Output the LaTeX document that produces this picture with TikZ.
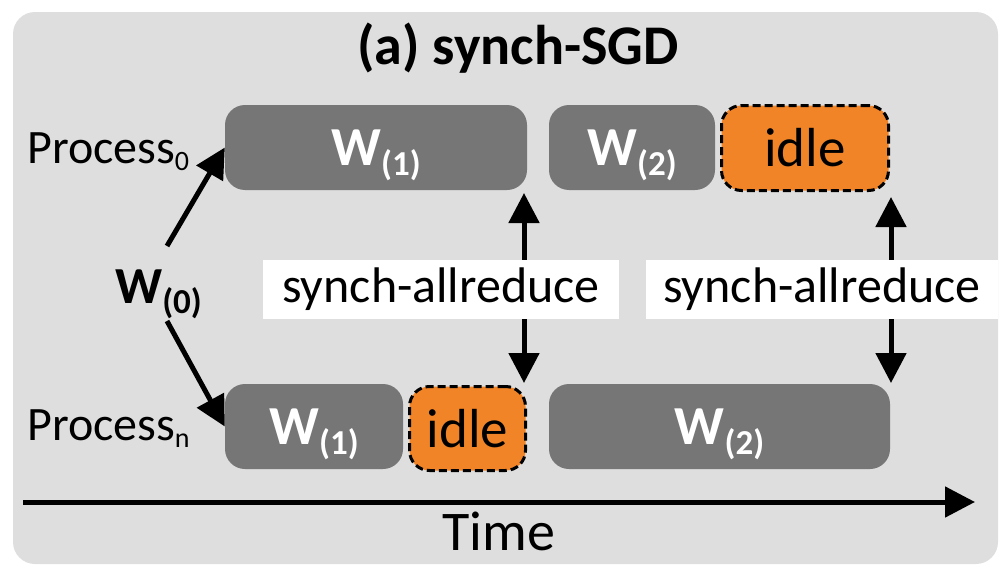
\documentclass[tikz,border=0pt]{standalone}
\usepackage{fontspec}
\setmainfont{Carlito}
\usetikzlibrary{arrows.meta}
\definecolor{panelgrey}{HTML}{DEDEDE}
\definecolor{boxgrey}{HTML}{767676}
\definecolor{idleorange}{HTML}{F08427}
% bold W with a lowered, smaller "(k)" index
\newcommand{\wk}[1]{W\smash{\raisebox{-10pt}{\fontsize{35}{35}\selectfont(#1)}}}
\newcommand{\procidx}[1]{\smash{\raisebox{-7pt}{\fontsize{28}{28}\selectfont #1}}}
\begin{document}
\begin{tikzpicture}[x=1pt,y=-1pt,
  wbox/.style={fill=boxgrey, rounded corners=20pt, inner sep=0pt, minimum height=85pt,
    text=white, font=\fontsize{55}{55}\selectfont\bfseries},
  idlebox/.style={fill=idleorange, draw=black, line width=3pt, dash pattern=on 8pt off 4pt,
    rounded corners=20pt, inner sep=0pt, font=\fontsize{55}{55}\selectfont},
  flow/.style={line width=5pt, -{Triangle[length=30pt,width=30pt]}},
  sync/.style={line width=5pt, {Triangle[length=30pt,width=30pt]}-{Triangle[length=30pt,width=30pt]}},
  synclabel/.style={fill=white, inner sep=0pt, minimum height=59pt, font=\fontsize{50}{50}\selectfont},
  proclabel/.style={anchor=base west, inner sep=0pt, font=\fontsize{48}{48}\selectfont},
]
\useasboundingbox (0,0) rectangle (999,570);
\fill[panelgrey, rounded corners=22pt] (13,12) rectangle (998,564);

% title
\node[anchor=base, inner sep=0pt, font=\fontsize{56}{56}\selectfont\bfseries] (title) at (518,64) {(a) synch-SGD};

% process labels
\node[proclabel] (p0) at (27,163) {Process\procidx{0}};
\node[proclabel] (pn) at (27,440) {Process\procidx{n}};

% initial weights
\node[anchor=base west, inner sep=0pt, font=\fontsize{52}{52}\selectfont\bfseries] (w0) at (115,303) {\wk{0}};
\coordinate (w0top) at (167,246);
\coordinate (w0bot) at (167,321);

% process 0 timeline
\node[wbox, minimum width=302pt] (t1) at (376,147.5) {\wk{1}};
\node[wbox, minimum width=166pt] (t2) at (632,147.5) {\wk{2}};
\node[idlebox, minimum width=167pt, minimum height=85pt] (ti) at (805,148) {idle};

% process n timeline
\node[wbox, minimum width=178pt] (b1) at (314,426.5) {\wk{1}};
\node[idlebox, minimum width=116pt, minimum height=84pt] (bi) at (467.5,428.5) {idle};
\node[wbox, minimum width=341pt] (b2) at (719.5,426.5) {\wk{2}};

% broadcast of initial weights
\draw[flow] (w0top) -- (t1.west);
\draw[flow] (w0bot) -- (b1.west);

% allreduce exchanges
\coordinate (s1top) at (524,193);
\coordinate (s1bot) at (524,383);
\coordinate (s2top) at (891,197);
\coordinate (s2bot) at (891,383);
\draw[sync] (s1top) -- (s1bot);
\draw[sync] (s2top) -- (s2bot);
\node[synclabel, minimum width=356pt] (lab1) at (441,289.5) {synch-allreduce};
\node[synclabel, minimum width=352pt] (lab2) at (822,289.5) {synch-allreduce};

% time axis
\coordinate (axisstart) at (23,502);
\coordinate (axisend) at (975,502);
\draw[flow] (axisstart) -- (axisend);
\node[anchor=base, inner sep=0pt, font=\fontsize{56}{56}\selectfont] (time) at (499,550) {Time};
\end{tikzpicture}
\end{document}
